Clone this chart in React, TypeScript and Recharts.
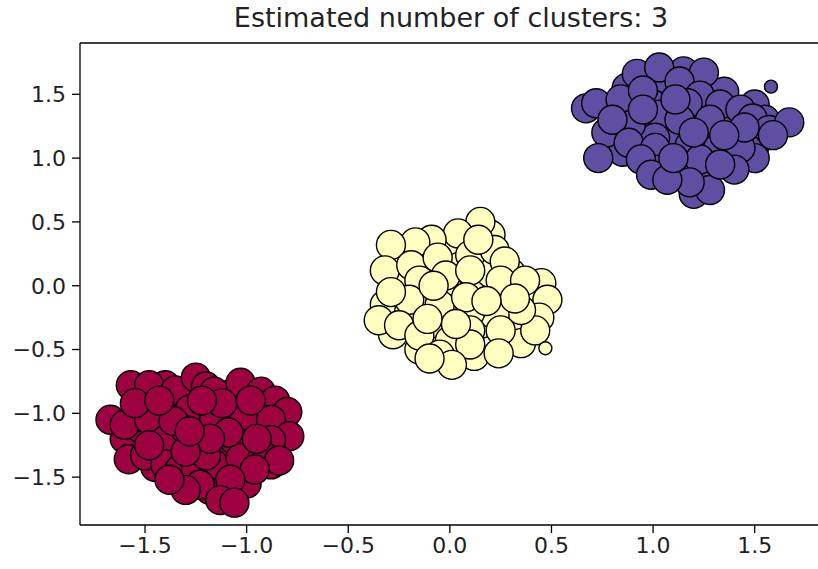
import React from 'react';
import { ScatterChart, Scatter, XAxis, YAxis, ReferenceLine } from 'recharts';

const TITLE = 'Estimated number of clusters: 3';
const X_TICKS = [-1.5, -1.0, -0.5, 0.0, 0.5, 1.0, 1.5];
const Y_TICKS = [-1.5, -1.0, -0.5, 0.0, 0.5, 1.0, 1.5];
const X_DOMAIN: [number, number] = [-1.82, 1.841];
const Y_DOMAIN: [number, number] = [-1.875, 1.902];

const COLORS = ['#9e0142', '#ffffbf', '#5e4fa2'];

// cluster 0 (red) core samples
const redCore = [
  { x: -1.52, y: -0.86 }, { x: -1.42, y: -0.98 }, { x: -1.35, y: -1.2 }, { x: -1.25, y: -1.05 },
  { x: -1.14, y: -1.1 }, { x: -1.05, y: -0.95 }, { x: -0.92, y: -1.0 }, { x: -0.85, y: -1.12 },
  { x: -0.9, y: -1.25 }, { x: -1.0, y: -1.28 }, { x: -1.12, y: -1.3 }, { x: -1.25, y: -1.37 },
  { x: -1.35, y: -1.32 }, { x: -1.45, y: -1.42 }, { x: -1.17, y: -1.48 }, { x: -1.05, y: -1.44 },
  { x: -1.27, y: -1.5 }, { x: -1.18, y: -1.6 }, { x: -1.0, y: -1.55 }, { x: -0.88, y: -1.4 },
  { x: -1.6, y: -1.2 }, { x: -1.52, y: -1.12 }, { x: -1.08, y: -0.85 }, { x: -1.3, y: -0.88 },
  { x: -1.4, y: -0.78 },
  { x: -1.57, y: -0.78 }, { x: -1.48, y: -0.78 }, { x: -1.35, y: -0.82 }, { x: -1.25, y: -0.72 },
  { x: -1.2, y: -0.79 }, { x: -1.16, y: -0.83 }, { x: -1.03, y: -0.76 }, { x: -0.93, y: -0.83 },
  { x: -0.86, y: -0.9 }, { x: -0.8, y: -0.99 }, { x: -1.67, y: -1.05 }, { x: -1.6, y: -1.09 },
  { x: -1.48, y: -1.05 }, { x: -1.4, y: -1.21 }, { x: -1.28, y: -0.97 }, { x: -1.16, y: -1.05 },
  { x: -1.01, y: -1.02 }, { x: -0.88, y: -1.05 }, { x: -0.79, y: -1.18 }, { x: -0.88, y: -1.21 },
  { x: -1.06, y: -1.21 }, { x: -1.23, y: -1.25 }, { x: -1.3, y: -1.13 }, { x: -1.58, y: -1.36 },
  { x: -1.5, y: -1.33 }, { x: -1.4, y: -1.4 }, { x: -1.33, y: -1.44 }, { x: -1.25, y: -1.44 },
  { x: -1.16, y: -1.4 }, { x: -1.03, y: -1.35 }, { x: -0.92, y: -1.33 }, { x: -0.84, y: -1.37 },
  { x: -0.96, y: -1.44 }, { x: -1.08, y: -1.52 }, { x: -1.23, y: -1.56 }, { x: -1.3, y: -1.6 },
  { x: -1.13, y: -1.68 }, { x: -1.06, y: -1.7 }, { x: -1.38, y: -1.52 }, { x: -1.48, y: -1.25 },
  { x: -1.09, y: -1.15 }, { x: -1.2, y: -1.33 }, { x: -1.36, y: -1.06 }, { x: -1.12, y: -0.92 },
  { x: -0.98, y: -0.9 }, { x: -1.55, y: -0.92 }, { x: -1.43, y: -0.9 }, { x: -0.95, y: -1.2 },
  { x: -1.18, y: -1.2 }, { x: -1.3, y: -1.3 }, { x: -1.28, y: -1.14 }, { x: -1.22, y: -0.9 },
];
const redEdge: { x: number; y: number }[] = [];

// cluster 1 (yellow) core samples
const yellowCore = [
  { x: -0.22, y: 0.24 }, { x: 0.0, y: 0.3 }, { x: 0.2, y: 0.4 }, { x: 0.3, y: 0.1 },
  { x: 0.15, y: 0.0 }, { x: 0.0, y: -0.05 }, { x: -0.1, y: 0.1 }, { x: -0.25, y: 0.05 },
  { x: -0.32, y: -0.15 }, { x: -0.2, y: -0.2 }, { x: -0.05, y: -0.3 }, { x: 0.15, y: -0.3 },
  { x: 0.3, y: -0.28 }, { x: 0.42, y: -0.15 }, { x: 0.3, y: 0.0 }, { x: 0.05, y: 0.15 },
  { x: 0.15, y: 0.15 }, { x: -0.15, y: -0.5 }, { x: 0.12, y: -0.55 }, { x: 0.35, y: -0.45 },
  { x: -0.28, y: -0.38 }, { x: 0.45, y: 0.02 }, { x: 0.05, y: -0.18 }, { x: 0.2, y: 0.1 },
  { x: 0.15, y: 0.5 }, { x: 0.04, y: 0.41 }, { x: -0.09, y: 0.36 }, { x: -0.17, y: 0.34 },
  { x: -0.29, y: 0.32 }, { x: -0.32, y: 0.12 }, { x: -0.19, y: 0.16 }, { x: -0.06, y: 0.22 },
  { x: 0.1, y: 0.24 }, { x: 0.22, y: 0.28 }, { x: 0.27, y: 0.19 }, { x: -0.15, y: 0.04 },
  { x: -0.02, y: 0.08 }, { x: 0.1, y: 0.12 }, { x: 0.25, y: 0.04 }, { x: 0.37, y: -0.07 },
  { x: 0.48, y: -0.11 }, { x: 0.44, y: -0.25 }, { x: 0.42, y: -0.35 }, { x: 0.35, y: -0.19 },
  { x: 0.22, y: -0.23 }, { x: 0.1, y: -0.21 }, { x: -0.05, y: -0.15 }, { x: -0.2, y: -0.11 },
  { x: -0.35, y: -0.27 }, { x: -0.25, y: -0.31 }, { x: -0.15, y: -0.39 }, { x: 0.0, y: -0.43 },
  { x: 0.1, y: -0.35 }, { x: 0.25, y: -0.35 }, { x: 0.24, y: -0.53 }, { x: 0.1, y: -0.46 },
  { x: -0.05, y: -0.54 }, { x: 0.01, y: -0.62 }, { x: -0.1, y: -0.57 }, { x: -0.29, y: -0.05 },
  { x: 0.37, y: 0.04 }, { x: 0.32, y: -0.1 }, { x: 0.08, y: -0.09 }, { x: -0.11, y: -0.26 },
  { x: 0.14, y: 0.36 }, { x: -0.08, y: 0.0 }, { x: 0.18, y: -0.12 }, { x: 0.03, y: -0.3 },
];
const yellowEdge = [{ x: 0.47, y: -0.49 }];

// cluster 2 (purple) core samples
const purpleCore = [
  { x: 0.8, y: 1.38 }, { x: 0.87, y: 1.55 }, { x: 1.05, y: 1.55 }, { x: 1.2, y: 1.58 },
  { x: 1.35, y: 1.52 }, { x: 1.5, y: 1.42 }, { x: 1.55, y: 1.3 }, { x: 1.4, y: 1.3 },
  { x: 1.25, y: 1.4 }, { x: 1.05, y: 1.25 }, { x: 0.95, y: 1.2 }, { x: 0.8, y: 1.18 },
  { x: 0.85, y: 1.05 }, { x: 1.05, y: 0.98 }, { x: 1.15, y: 0.95 }, { x: 1.25, y: 0.88 },
  { x: 1.38, y: 1.0 }, { x: 1.5, y: 1.1 }, { x: 1.3, y: 1.18 }, { x: 1.0, y: 1.42 },
  { x: 1.15, y: 1.68 }, { x: 0.77, y: 1.2 }, { x: 1.1, y: 1.12 }, { x: 1.5, y: 1.0 },
  { x: 1.2, y: 0.72 },
  { x: 0.92, y: 1.66 }, { x: 1.03, y: 1.71 }, { x: 1.25, y: 1.67 }, { x: 1.13, y: 1.6 },
  { x: 0.67, y: 1.39 }, { x: 0.72, y: 1.43 }, { x: 0.84, y: 1.46 }, { x: 0.95, y: 1.53 },
  { x: 1.23, y: 1.49 }, { x: 1.17, y: 1.43 }, { x: 1.33, y: 1.42 }, { x: 1.43, y: 1.38 },
  { x: 1.49, y: 1.31 }, { x: 1.03, y: 1.34 }, { x: 1.13, y: 1.3 }, { x: 1.28, y: 1.3 },
  { x: 1.01, y: 1.16 }, { x: 0.89, y: 1.26 }, { x: 0.8, y: 1.3 }, { x: 0.73, y: 1.0 },
  { x: 0.88, y: 1.12 }, { x: 1.01, y: 1.08 }, { x: 1.18, y: 1.1 }, { x: 1.32, y: 1.08 },
  { x: 1.43, y: 1.08 }, { x: 1.57, y: 1.22 }, { x: 1.67, y: 1.28 }, { x: 1.59, y: 1.18 },
  { x: 1.4, y: 0.91 }, { x: 1.28, y: 0.75 }, { x: 1.13, y: 0.87 }, { x: 1.03, y: 0.91 },
  { x: 0.94, y: 0.99 }, { x: 1.23, y: 0.99 }, { x: 1.33, y: 0.95 }, { x: 0.99, y: 0.87 },
  { x: 1.18, y: 0.81 }, { x: 1.07, y: 0.83 }, { x: 1.45, y: 1.24 }, { x: 1.35, y: 1.18 },
  { x: 1.11, y: 1.46 }, { x: 1.2, y: 1.2 }, { x: 0.95, y: 1.38 }, { x: 1.1, y: 1.0 },
];
const purpleEdge = [{ x: 1.58, y: 1.56 }];

const CLUSTERS = [
  { core: redCore, edge: redEdge },
  { core: yellowCore, edge: yellowEdge },
  { core: purpleCore, edge: purpleEdge },
];

const fmt = (v: number) => (v < 0 ? '\u2212' : '') + Math.abs(v).toFixed(1);

const makeShape = (r: number, fill: string) => (props: any) => (
  <circle cx={props.cx} cy={props.cy} r={r} fill={fill} stroke="#000" strokeWidth={1.4} />
);

const FONT = 'DejaVu Sans';

export default function App() {
  return (
    <div style={{ position: 'absolute', left: 0, top: 0, width: 818, height: 569, overflow: 'hidden', background: '#fff' }}>
      <div
        style={{
          position: 'absolute', left: 0, top: 4, width: 902, textAlign: 'center',
          fontFamily: FONT, fontSize: 27, lineHeight: '27px', color: '#222',
        }}
      >
        {TITLE}
      </div>
      <ScatterChart width={830} height={569} margin={{ top: 43, right: 6, bottom: 0, left: 0 }}>
        <XAxis
          type="number" dataKey="x" domain={X_DOMAIN} ticks={X_TICKS} tickFormatter={fmt}
          allowDataOverflow height={44} tickSize={8} tickMargin={4}
          axisLine={{ stroke: '#000', strokeWidth: 1.3 }} tickLine={{ stroke: '#000', strokeWidth: 1.3 }}
          tick={{ fill: '#222', fontSize: 22, fontFamily: FONT }}
        />
        <YAxis
          type="number" dataKey="y" domain={Y_DOMAIN} ticks={Y_TICKS} tickFormatter={fmt}
          allowDataOverflow width={80} tickSize={8} tickMargin={6}
          axisLine={{ stroke: '#000', strokeWidth: 1.3 }} tickLine={{ stroke: '#000', strokeWidth: 1.3 }}
          tick={{ fill: '#222', fontSize: 22, fontFamily: FONT }}
        />
        <ReferenceLine y={Y_DOMAIN[1]} stroke="#000" strokeWidth={1.3} />
        {CLUSTERS.map((c, i) => [
          <Scatter key={`core${i}`} data={c.core} isAnimationActive={false} shape={makeShape(14.5, COLORS[i])} />,
          <Scatter key={`edge${i}`} data={c.edge} isAnimationActive={false} shape={makeShape(6.5, COLORS[i])} />,
        ])}
      </ScatterChart>
    </div>
  );
}
